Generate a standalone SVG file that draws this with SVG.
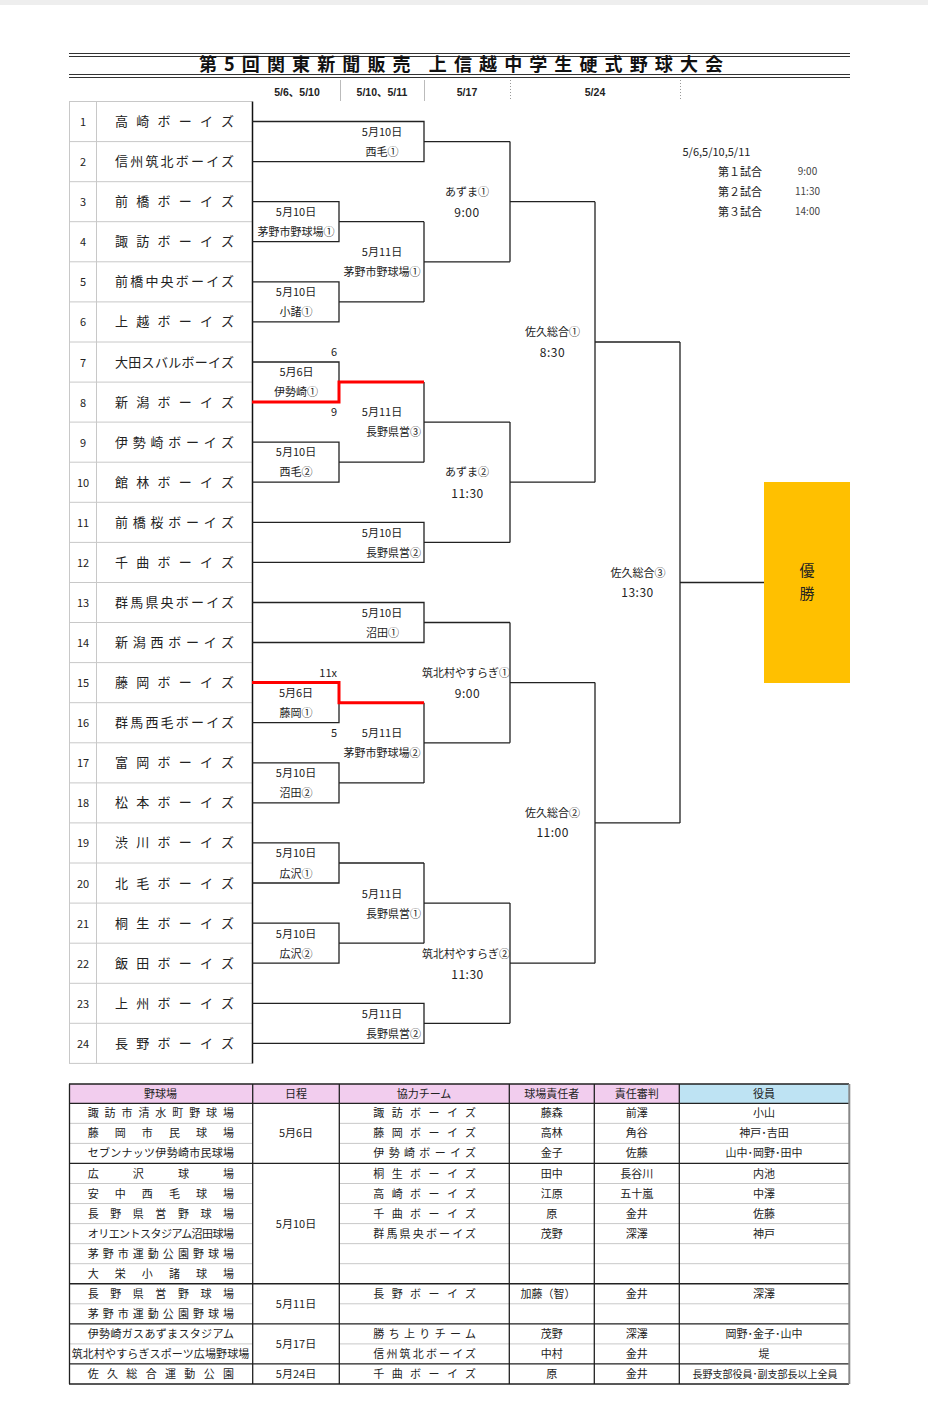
<svg xmlns="http://www.w3.org/2000/svg" width="928" height="1403" viewBox="0 0 928 1403">
<style>
text{font-family:"Noto Sans CJK JP","Noto Sans",sans-serif;fill:#222}
.c{text-anchor:middle}
.e{text-anchor:end}
.s11{font-size:11px}
.s10{font-size:10px}
.num{font-size:11px;text-anchor:middle}
.tn{font-size:13px}
.tm{font-size:12px;text-anchor:middle;letter-spacing:0.5px}
.hd{font-family:"Liberation Sans Narrow","Liberation Sans","Noto Sans CJK JP",sans-serif;font-size:10.5px;font-weight:bold;text-anchor:middle}
.grid{stroke:#c8c8c8;stroke-width:1;fill:none}
.br{stroke:#222;stroke-width:1.3;fill:none}
.red{stroke:#ff0000;stroke-width:3;fill:none}
.blk{stroke:#222;stroke-width:1.3;fill:none}
.thin{stroke:#c8c8c8;stroke-width:1;fill:none}
</style>
<rect x="0" y="0" width="928" height="5" fill="#eeeeee"/>

<g id="title">
<path d="M69,53.5H850M69,56.5H850M69,74.5H850M69,77.5H850" stroke="#333" stroke-width="1.2" fill="none"/>
<text x="199" y="71" font-size="18" font-weight="bold" textLength="524" lengthAdjust="spacing" style="fill:#111">第5回関東新聞販売 上信越中学生硬式野球大会</text>
</g>

<g id="header">
<path d="M340.5,80V101M424.5,80V101" stroke="#bbb" stroke-width="1"/>
<path d="M510.5,80V101M680.5,80V101" stroke="#999" stroke-width="1" stroke-dasharray="1,2"/>
<text class="hd" x="297" y="96">5/6、5/10</text>
<text class="hd" x="382" y="96">5/10、5/11</text>
<text class="hd" x="467" y="96">5/17</text>
<text class="hd" x="595" y="96">5/24</text>
</g>

<g id="team-grid">
<path class="grid" d="M69,101.5H252M69,141.6H252M69,181.7H252M69,221.7H252M69,261.8H252M69,301.9H252M69,342H252M69,382.1H252M69,422.1H252M69,462.2H252M69,502.3H252M69,542.4H252M69,582.5H252M69,622.5H252M69,662.6H252M69,702.7H252M69,742.8H252M69,782.9H252M69,822.9H252M69,863H252M69,903.1H252M69,943.2H252M69,983.3H252M69,1023.3H252M69,1063.4H252M69.5,101.5V1063.4M96.5,101.5V1063.4"/>
<path d="M252.5,101.5V1063.4" stroke="#111" stroke-width="1.5"/>
</g>

<g id="team-1"><text class="num" x="83" y="126">1</text><text class="tn" x="115" y="126" textLength="119" lengthAdjust="spacing">高崎ボーイズ</text></g>
<g id="team-2"><text class="num" x="83" y="166.1">2</text><text class="tn" x="115" y="166.1" textLength="119" lengthAdjust="spacing">信州筑北ボーイズ</text></g>
<g id="team-3"><text class="num" x="83" y="206.2">3</text><text class="tn" x="115" y="206.2" textLength="119" lengthAdjust="spacing">前橋ボーイズ</text></g>
<g id="team-4"><text class="num" x="83" y="246.2">4</text><text class="tn" x="115" y="246.2" textLength="119" lengthAdjust="spacing">諏訪ボーイズ</text></g>
<g id="team-5"><text class="num" x="83" y="286.3">5</text><text class="tn" x="115" y="286.3" textLength="119" lengthAdjust="spacing">前橋中央ボーイズ</text></g>
<g id="team-6"><text class="num" x="83" y="326.4">6</text><text class="tn" x="115" y="326.4" textLength="119" lengthAdjust="spacing">上越ボーイズ</text></g>
<g id="team-7"><text class="num" x="83" y="366.5">7</text><text class="tn" x="115" y="366.5" textLength="119" lengthAdjust="spacing">大田スバルボーイズ</text></g>
<g id="team-8"><text class="num" x="83" y="406.6">8</text><text class="tn" x="115" y="406.6" textLength="119" lengthAdjust="spacing">新潟ボーイズ</text></g>
<g id="team-9"><text class="num" x="83" y="446.6">9</text><text class="tn" x="115" y="446.6" textLength="119" lengthAdjust="spacing">伊勢崎ボーイズ</text></g>
<g id="team-10"><text class="num" x="83" y="486.7">10</text><text class="tn" x="115" y="486.7" textLength="119" lengthAdjust="spacing">館林ボーイズ</text></g>
<g id="team-11"><text class="num" x="83" y="526.8">11</text><text class="tn" x="115" y="526.8" textLength="119" lengthAdjust="spacing">前橋桜ボーイズ</text></g>
<g id="team-12"><text class="num" x="83" y="566.9">12</text><text class="tn" x="115" y="566.9" textLength="119" lengthAdjust="spacing">千曲ボーイズ</text></g>
<g id="team-13"><text class="num" x="83" y="607">13</text><text class="tn" x="115" y="607" textLength="119" lengthAdjust="spacing">群馬県央ボーイズ</text></g>
<g id="team-14"><text class="num" x="83" y="647">14</text><text class="tn" x="115" y="647" textLength="119" lengthAdjust="spacing">新潟西ボーイズ</text></g>
<g id="team-15"><text class="num" x="83" y="687.1">15</text><text class="tn" x="115" y="687.1" textLength="119" lengthAdjust="spacing">藤岡ボーイズ</text></g>
<g id="team-16"><text class="num" x="83" y="727.2">16</text><text class="tn" x="115" y="727.2" textLength="119" lengthAdjust="spacing">群馬西毛ボーイズ</text></g>
<g id="team-17"><text class="num" x="83" y="767.3">17</text><text class="tn" x="115" y="767.3" textLength="119" lengthAdjust="spacing">富岡ボーイズ</text></g>
<g id="team-18"><text class="num" x="83" y="807.4">18</text><text class="tn" x="115" y="807.4" textLength="119" lengthAdjust="spacing">松本ボーイズ</text></g>
<g id="team-19"><text class="num" x="83" y="847.4">19</text><text class="tn" x="115" y="847.4" textLength="119" lengthAdjust="spacing">渋川ボーイズ</text></g>
<g id="team-20"><text class="num" x="83" y="887.5">20</text><text class="tn" x="115" y="887.5" textLength="119" lengthAdjust="spacing">北毛ボーイズ</text></g>
<g id="team-21"><text class="num" x="83" y="927.6">21</text><text class="tn" x="115" y="927.6" textLength="119" lengthAdjust="spacing">桐生ボーイズ</text></g>
<g id="team-22"><text class="num" x="83" y="967.7">22</text><text class="tn" x="115" y="967.7" textLength="119" lengthAdjust="spacing">飯田ボーイズ</text></g>
<g id="team-23"><text class="num" x="83" y="1007.8">23</text><text class="tn" x="115" y="1007.8" textLength="119" lengthAdjust="spacing">上州ボーイズ</text></g>
<g id="team-24"><text class="num" x="83" y="1047.8">24</text><text class="tn" x="115" y="1047.8" textLength="119" lengthAdjust="spacing">長野ボーイズ</text></g>

<g id="connectors">
<path class="br" d="M252,121.5H424V161.6H252M424,141.6H510"/>
<path class="br" d="M252,201.7H339V241.7H252M339,221.7H424"/>
<path class="br" d="M252,281.8H339V321.9H252M339,301.9H424"/>
<path class="br" d="M424,221.7V301.9M424,261.8H510"/>
<path class="br" d="M510,141.6V261.8M510,201.7H595"/>
<path class="br" d="M252,362H339V382.1"/>
<path class="br" d="M252,442.1H339V482.2H252M339,462.2H424"/>
<path class="br" d="M424,382.1V462.2M424,422.1H510"/>
<path class="br" d="M252,522.3H424V562.4H252M424,542.4H510"/>
<path class="br" d="M510,422.1V542.4M510,482.2H595"/>
<path class="br" d="M595,201.7V482.2M595,342H680"/>
<path class="br" d="M252,602.5H424V642.5H252M424,622.5H510"/>
<path class="br" d="M252,722.7H339V702.7"/>
<path class="br" d="M252,762.8H339V802.9H252M339,782.9H424"/>
<path class="br" d="M424,702.7V782.9M424,742.8H510"/>
<path class="br" d="M510,622.5V742.8M510,682.6H595"/>
<path class="br" d="M252,842.9H339V883H252M339,863H424"/>
<path class="br" d="M252,923.1H339V963.2H252M339,943.2H424"/>
<path class="br" d="M424,863V943.2M424,903.1H510"/>
<path class="br" d="M252,1003.3H424V1043.3H252M424,1023.3H510"/>
<path class="br" d="M510,903.1V1023.3M510,963.2H595"/>
<path class="br" d="M595,682.6V963.2M595,822.9H680"/>
<path class="br" d="M680,342V822.9M680,582.5H764"/>
<path class="red" d="M252,402.1H339V382.1H424"/>
<path class="red" d="M252,682.6H339V702.7H424"/>
</g>

<g id="m-1-2"><text class="c s11" x="382" y="136">5月10日</text><text class="c s11" x="382" y="156">西毛①</text></g>
<g id="m-3-4"><text class="c s11" x="296" y="216.3">5月10日</text><text class="c s11" x="296" y="236.3">茅野市野球場①</text></g>
<g id="m-5-6"><text class="c s11" x="296" y="296.3">5月10日</text><text class="c s11" x="296" y="316.3">小諸①</text></g>
<g id="m-3-6"><text class="c s11" x="382" y="256.3">5月11日</text><text class="c s11" x="382" y="276.3">茅野市野球場①</text></g>
<g id="m-1-6"><text class="c s11" x="467" y="195.7">あずま①</text><text class="tm" x="467" y="216.5">9:00</text></g>
<g id="m-7-8"><text class="e s11" x="337" y="356">6</text><text class="c s11" x="296.5" y="376.3">5月6日</text><text class="c s11" x="296" y="396.3">伊勢崎①</text><text class="e s11" x="337" y="415.7">9</text></g>
<g id="m-7-10"><text class="c s11" x="382" y="415.7">5月11日</text><text class="e s11" x="421" y="436.3">長野県営③</text></g>
<g id="m-9-10"><text class="c s11" x="296" y="456.3">5月10日</text><text class="c s11" x="296" y="476">西毛②</text></g>
<g id="m-11-12"><text class="c s11" x="382" y="537">5月10日</text><text class="e s11" x="421" y="556.7">長野県営②</text></g>
<g id="m-7-12"><text class="c s11" x="467" y="476">あずま②</text><text class="tm" x="467.5" y="497.5">11:30</text></g>
<g id="m-1-12"><text class="c s11" x="552.5" y="336">佐久総合①</text><text class="tm" x="552.5" y="356.5">8:30</text></g>
<g id="m-final"><text class="c s11" x="638" y="576.7">佐久総合③</text><text class="tm" x="637.5" y="596.8">13:30</text></g>
<g id="m-13-14"><text class="c s11" x="382" y="617">5月10日</text><text class="c s11" x="382.5" y="637.3">沼田①</text></g>
<g id="m-15-16"><text class="e s11" x="337" y="677">11x</text><text class="c s11" x="296" y="697">5月6日</text><text class="c s11" x="296" y="717">藤岡①</text><text class="e s11" x="337" y="737">5</text></g>
<g id="m-15-18"><text class="c s11" x="382" y="737">5月11日</text><text class="c s11" x="382" y="757">茅野市野球場②</text></g>
<g id="m-17-18"><text class="c s11" x="296" y="777">5月10日</text><text class="c s11" x="296" y="797">沼田②</text></g>
<g id="m-13-18"><text class="c s11" x="466" y="677.3">筑北村やすらぎ①</text><text class="tm" x="467.5" y="697.5">9:00</text></g>
<g id="m-13-24"><text class="c s11" x="552.5" y="817">佐久総合②</text><text class="tm" x="552.7" y="837.2">11:00</text></g>
<g id="m-19-20"><text class="c s11" x="296" y="857">5月10日</text><text class="c s11" x="296" y="877.7">広沢①</text></g>
<g id="m-19-22"><text class="c s11" x="382" y="897.7">5月11日</text><text class="e s11" x="421" y="917.7">長野県営①</text></g>
<g id="m-21-22"><text class="c s11" x="296" y="937.7">5月10日</text><text class="c s11" x="296" y="957.7">広沢②</text></g>
<g id="m-19-24"><text class="c s11" x="466" y="958.3">筑北村やすらぎ②</text><text class="tm" x="467.5" y="978.5">11:30</text></g>
<g id="m-23-24"><text class="c s11" x="382" y="1017.7">5月11日</text><text class="e s11" x="421" y="1037.7">長野県営②</text></g>

<g id="schedule">
<text class="s11" x="682.5" y="156.3" font-size="11.5">5/6,5/10,5/11</text>
<text class="e s11" x="762" y="175.7">第１試合</text>
<text class="e s11" x="762" y="195.7">第２試合</text>
<text class="e s11" x="762" y="215.7">第３試合</text>
<text class="c s10" x="807.5" y="175.2" style="fill:#444">9:00</text>
<text class="c s10" x="807.5" y="195.2" style="fill:#444">11:30</text>
<text class="c s10" x="807.5" y="215.2" style="fill:#444">14:00</text>
</g>

<g id="champion">
<rect x="764" y="482" width="86" height="201" fill="#FFC000"/>
<text class="c" x="807" y="575.5" font-size="15">優</text>
<text class="c" x="807" y="598.5" font-size="15">勝</text>
</g>

<g id="table">
<rect x="69" y="1084" width="610.3" height="19.3" fill="#F2CDEE"/>
<rect x="679.3" y="1084" width="170" height="19.3" fill="#BEE3F3"/>
<path class="thin" d="M69,1123.35H252.7M339.3,1123.35H849M69,1143.4H252.7M339.3,1143.4H849M69,1183.5H252.7M339.3,1183.5H849M69,1203.55H252.7M339.3,1203.55H849M69,1223.6H252.7M339.3,1223.6H849M69,1243.65H252.7M339.3,1243.65H849M69,1263.7H252.7M339.3,1263.7H849M69,1303.8H252.7M339.3,1303.8H849M69,1343.9H252.7M339.3,1343.9H849"/>
<path class="blk" d="M69,1084H849M69,1103.3H849M69,1163.45H849M69,1283.75H849M69,1323.85H849M69,1363.95H849M69,1384H849M69.5,1084V1384M252.7,1084V1384M339.3,1084V1384M509.3,1084V1384M594.3,1084V1384M679.3,1084V1384"/>
<path d="M849.3,1084V1384" stroke="#888" stroke-width="2"/>
<g class="s11">
<text class="c" x="160.5" y="1097.5">野球場</text>
<text class="c" x="296" y="1097.5">日程</text>
<text class="c" x="424" y="1097.5">協力チーム</text>
<text class="c" x="551.8" y="1097.5">球場責任者</text>
<text class="c" x="636.8" y="1097.5">責任審判</text>
<text class="c" x="764" y="1097.5">役員</text>

<text x="87.7" y="1117.3" textLength="146.3" lengthAdjust="spacing">諏訪市清水町野球場</text>
<text x="87.7" y="1137.4" textLength="146.3" lengthAdjust="spacing">藤岡市民球場</text>
<text x="87.7" y="1157.4" textLength="146.3" lengthAdjust="spacing">セブンナッツ伊勢崎市民球場</text>
<text x="87.7" y="1177.5" textLength="146.3" lengthAdjust="spacing">広沢球場</text>
<text x="87.7" y="1197.5" textLength="146.3" lengthAdjust="spacing">安中西毛球場</text>
<text x="87.7" y="1217.6" textLength="146.3" lengthAdjust="spacing">長野県営野球場</text>
<text x="87.7" y="1237.6" textLength="146.3" lengthAdjust="spacing">オリエントスタジアム沼田球場</text>
<text x="87.7" y="1257.7" textLength="146.3" lengthAdjust="spacing">茅野市運動公園野球場</text>
<text x="87.7" y="1277.7" textLength="146.3" lengthAdjust="spacing">大栄小諸球場</text>
<text x="87.7" y="1297.8" textLength="146.3" lengthAdjust="spacing">長野県営野球場</text>
<text x="87.7" y="1317.8" textLength="146.3" lengthAdjust="spacing">茅野市運動公園野球場</text>
<text x="87.7" y="1337.9" textLength="146.3" lengthAdjust="spacing">伊勢崎ガスあずまスタジアム</text>
<text x="71.7" y="1357.9" textLength="177.6" lengthAdjust="spacing">筑北村やすらぎスポーツ広場野球場</text>
<text x="87.7" y="1378" textLength="146.3" lengthAdjust="spacing">佐久総合運動公園</text>

<text class="c" x="296" y="1137.4">5月6日</text>
<text class="c" x="296" y="1227.6">5月10日</text>
<text class="c" x="296" y="1307.8">5月11日</text>
<text class="c" x="296" y="1347.9">5月17日</text>
<text class="c" x="296" y="1378">5月24日</text>

<text x="373.3" y="1117.3" textLength="102.7" lengthAdjust="spacing">諏訪ボーイズ</text>
<text x="373.3" y="1137.4" textLength="102.7" lengthAdjust="spacing">藤岡ボーイズ</text>
<text x="373.3" y="1157.4" textLength="102.7" lengthAdjust="spacing">伊勢崎ボーイズ</text>
<text x="373.3" y="1177.5" textLength="102.7" lengthAdjust="spacing">桐生ボーイズ</text>
<text x="373.3" y="1197.5" textLength="102.7" lengthAdjust="spacing">高崎ボーイズ</text>
<text x="373.3" y="1217.6" textLength="102.7" lengthAdjust="spacing">千曲ボーイズ</text>
<text x="373.3" y="1237.6" textLength="102.7" lengthAdjust="spacing">群馬県央ボーイズ</text>
<text x="373.3" y="1297.8" textLength="102.7" lengthAdjust="spacing">長野ボーイズ</text>
<text x="373.3" y="1337.9" textLength="102.7" lengthAdjust="spacing">勝ち上りチーム</text>
<text x="373.3" y="1357.9" textLength="102.7" lengthAdjust="spacing">信州筑北ボーイズ</text>
<text x="373.3" y="1378" textLength="102.7" lengthAdjust="spacing">千曲ボーイズ</text>

<text class="c" x="551.8" y="1117.3">藤森</text>
<text class="c" x="551.8" y="1137.4">高林</text>
<text class="c" x="551.8" y="1157.4">金子</text>
<text class="c" x="551.8" y="1177.5">田中</text>
<text class="c" x="551.8" y="1197.5">江原</text>
<text class="c" x="551.8" y="1217.6">原</text>
<text class="c" x="551.8" y="1237.6">茂野</text>
<text class="c" x="548" y="1297.8">加藤（智）</text>
<text class="c" x="551.8" y="1337.9">茂野</text>
<text class="c" x="551.8" y="1357.9">中村</text>
<text class="c" x="551.8" y="1378">原</text>

<text class="c" x="636.8" y="1117.3">前澤</text>
<text class="c" x="636.8" y="1137.4">角谷</text>
<text class="c" x="636.8" y="1157.4">佐藤</text>
<text class="c" x="636.8" y="1177.5">長谷川</text>
<text class="c" x="636.8" y="1197.5">五十嵐</text>
<text class="c" x="636.8" y="1217.6">金井</text>
<text class="c" x="636.8" y="1237.6">深澤</text>
<text class="c" x="636.8" y="1297.8">金井</text>
<text class="c" x="636.8" y="1337.9">深澤</text>
<text class="c" x="636.8" y="1357.9">金井</text>
<text class="c" x="636.8" y="1378">金井</text>

<text class="c" x="764" y="1117.3">小山</text>
<text class="c" x="764" y="1137.4">神戸･吉田</text>
<text class="c" x="764" y="1157.4">山中･岡野･田中</text>
<text class="c" x="764" y="1177.5">内池</text>
<text class="c" x="764" y="1197.5">中澤</text>
<text class="c" x="764" y="1217.6">佐藤</text>
<text class="c" x="764" y="1237.6">神戸</text>
<text class="c" x="764" y="1297.8">深澤</text>
<text class="c" x="764" y="1337.9">岡野･金子･山中</text>
<text class="c" x="764" y="1357.9">堤</text>
<text class="c" x="765" y="1377.5" font-size="10">長野支部役員･副支部長以上全員</text>
</g>
</g>
</svg>
